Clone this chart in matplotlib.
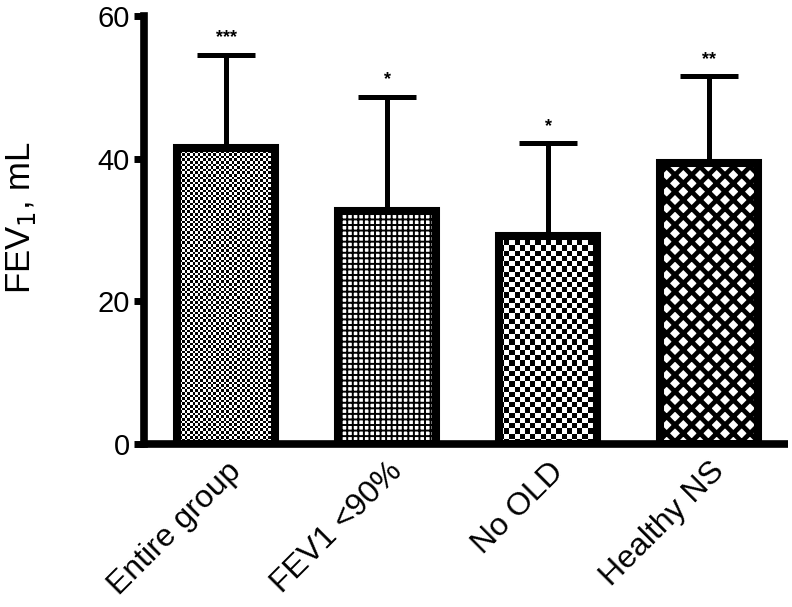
import numpy as np
import matplotlib.pyplot as plt

plt.rcParams['font.family'] = ['Liberation Sans', 'DejaVu Sans']

# data
groups = ["Entire group", "FEV1 <90%", "No OLD", "Healthy NS"]
means = [41.5, 32.7, 29.2, 39.4]
sd_up = [13.1, 16.0, 13.0, 12.2]
stars = ["***", "*", "*", "**"]

fig = plt.figure(figsize=(7.92, 6.07), dpi=100)
ax = fig.add_axes([0.182, 0.2685, 0.813, 0.705])

x = np.arange(len(groups))
ax.set_xlim(-0.51, 3.49)
ax.set_ylim(0, 60)

ax.errorbar(x, means, yerr=[np.zeros(len(means)), sd_up], fmt='none',
            ecolor='black', elinewidth=3.6, capsize=21, capthick=3.6, zorder=1)

bars = ax.bar(x, means, width=0.61, color='white', edgecolor='black',
              linewidth=5.8, zorder=3)

# fill patterns
bars[1].set_hatch('+++')
bars[3].set_hatch('xx')
bars[1]._hatch_linewidth = 1.4
bars[3]._hatch_linewidth = 3.4
bars[0].set_facecolor('none')
bars[2].set_facecolor('none')


def checker(bar, cell):
    x0, y0 = bar.get_x(), bar.get_y()
    w, h = bar.get_width(), bar.get_height()
    p0 = ax.transData.transform((x0, y0))
    p1 = ax.transData.transform((x0 + w, y0 + h))
    nx = max(1, int(round((p1[0] - p0[0]) / cell)))
    ny = max(1, int(round((p1[1] - p0[1]) / cell)))
    board = (np.add.outer(np.arange(ny), np.arange(nx)) % 2).astype(float)
    im = ax.imshow(board, cmap='gray', extent=(x0, x0 + w, y0, y0 + h),
                   interpolation='nearest', aspect='auto', zorder=2.5)
    im.set_clip_path(bar)


checker(bars[0], 2.6)
checker(bars[2], 5.2)
ax.set_xlim(-0.51, 3.49)
ax.set_ylim(0, 60)

for xi, m, s, st in zip(x, means, sd_up, stars):
    ax.annotate(st, (xi, m + s), xytext=(0, 6), textcoords='offset points',
                ha='center', va='bottom', fontsize=13, fontweight='bold')

ax.set_yticks([0, 20, 40, 60])
ax.set_xticks(x)
ax.set_xticklabels(groups, rotation=45, ha='right', rotation_mode='anchor')
ax.tick_params(axis='y', labelsize=21, width=5, length=7, direction='out')
ax.tick_params(axis='x', labelsize=23, length=0, pad=9)
ax.set_ylabel("FEV$_1$, mL", fontsize=25)
ax.yaxis.set_label_coords(-0.165, 0.53)

for side in ['top', 'right']:
    ax.spines[side].set_visible(False)
for side in ['left', 'bottom']:
    ax.spines[side].set_linewidth(5.5)
ax.spines['bottom'].set_capstyle('butt')

fig.savefig("out.png", dpi=100)
